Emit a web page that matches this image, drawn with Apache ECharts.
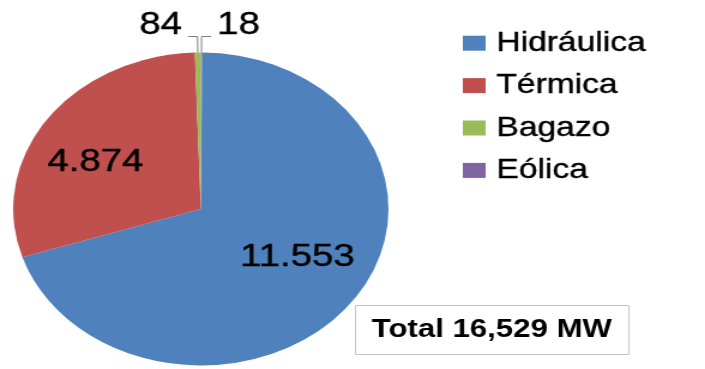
<!DOCTYPE html>
<html><head><meta charset="utf-8">
<script src="https://cdn.jsdelivr.net/npm/echarts@6/dist/echarts.min.js"></script>
<style>
html,body{margin:0;padding:0;background:#fff;overflow:hidden;}
#wrap{width:705px;height:369px;overflow:hidden;}
#chart{width:588px;height:369px;transform:scaleX(1.199);transform-origin:0 0;}
</style></head><body>
<div id="wrap"><div id="chart"></div></div>
<script>
// Data
const categories = ['Hidráulica', 'Térmica', 'Bagazo', 'Eólica'];
const values = [11553, 4874, 84, 18];
const valueLabels = ['11.553', '4.874', '84', '18'];
const colors = ['#4F81BD', '#C0504D', '#9BBB59', '#8064A2'];
const totalLabel = 'Total 16,529 MW';

// Draw order around the pie (clockwise from 12 o'clock): the tiny Eólica slice sits just right of top
const drawOrder = [3, 0, 1, 2];

const FONT = '"Liberation Sans", Arial, sans-serif';
const labelStyles = {
  0: { position: 'inside', padding: [0, 0, 2, 30] },
  1: { position: 'inside', padding: [0, 43, 18, 0] },
  2: { position: 'outside' },
  3: { position: 'outside' }
};

const seriesData = drawOrder.map(i => ({
  name: categories[i],
  value: values[i],
  itemStyle: { color: colors[i] },
  label: Object.assign({
    show: true,
    formatter: valueLabels[i],
    fontSize: 32,
    fontFamily: FONT,
    color: '#000',
    textBorderColor: '#000',
    textBorderWidth: 0.4
  }, labelStyles[i]),
  labelLine: { show: labelStyles[i].position === 'outside' }
}));

const chart = echarts.init(document.getElementById('chart'), null, { renderer: 'canvas' });
chart.setOption({
  animation: false,
  backgroundColor: '#fff',
  title: {
    text: totalLabel,
    left: 296,
    top: 305,
    padding: [12, 14],
    borderWidth: 1,
    borderColor: '#c4c4c4',
    textStyle: { fontSize: 26, fontWeight: 'bold', fontFamily: FONT, color: '#000', lineHeight: 26 }
  },
  legend: {
    data: categories,
    orient: 'vertical',
    left: 386,
    top: 29,
    padding: 0,
    icon: 'rect',
    itemWidth: 19,
    itemHeight: 15,
    itemGap: 14,
    selectedMode: false,
    textStyle: { fontSize: 28, lineHeight: 28, fontFamily: FONT, color: '#000', padding: [0, 0, 0, 4],
                 textBorderColor: '#000', textBorderWidth: 0.4 }
  },
  series: [{
    type: 'pie',
    center: [167.5, 209],
    radius: 156.5,
    startAngle: 90,
    clockwise: true,
    avoidLabelOverlap: false,
    minAngle: 0,
    data: seriesData,
    labelLine: { length: 16, length2: 8, smooth: false, lineStyle: { color: '#7f7f7f', width: 1 } },
    labelLayout: function (params) {
      const d = seriesData[params.dataIndex];
      if (d && d.label.position === 'outside') {
        return { dy: -11, labelLinePoints: params.labelLinePoints };
      }
      return {};
    },
    emphasis: { disabled: true },
    itemStyle: { borderWidth: 0 }
  }]
});
</script>
</body></html>
